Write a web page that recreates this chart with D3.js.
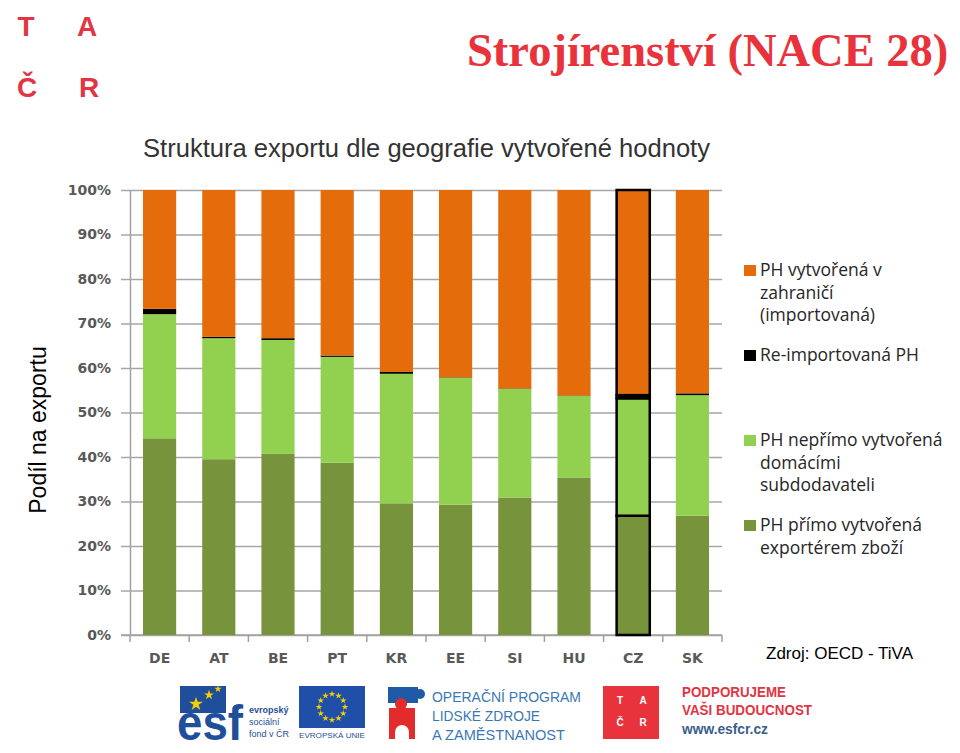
<!DOCTYPE html>
<html><head><meta charset="utf-8">
<script src="https://cdn.jsdelivr.net/npm/d3@7"></script>
<style>html,body{margin:0;padding:0;background:#fff;}svg{display:block;}</style>
</head><body>
<svg id="chart" width="960" height="753"></svg>
<script>
// ---- data ----
const countries = ["DE","AT","BE","PT","KR","EE","SI","HU","CZ","SK"];
const direct    = [44.2, 39.5, 40.7, 38.7, 29.6, 29.3, 30.9, 35.4, 26.8, 26.8];
const indirect  = [27.9, 27.2, 25.6, 23.8, 29.1, 28.5, 24.4, 18.3, 26.4, 27.1];
const reimport  = [1.2, 0.3, 0.4, 0.3, 0.4, 0.1, 0.1, 0.1, 0.7, 0.4];
const foreign   = [26.7, 33.0, 33.3, 37.2, 40.9, 42.1, 44.6, 46.2, 46.1, 45.7];
const yTicks    = [0,10,20,30,40,50,60,70,80,90,100];
const seriesKeys = ["direct","indirect","reimport","foreign"];
const seriesColors = {direct:"#77933c", indirect:"#92d050", reimport:"#000000", foreign:"#e46c0a"};
const legendItems = [
  {key:"foreign", lines:["PH vytvořená v","zahraničí","(importovaná)"]},
  {key:"reimport", lines:["Re-importovaná PH"]},
  {key:"indirect", lines:["PH nepřímo vytvořená","domácími","subdodavateli"]},
  {key:"direct", lines:["PH přímo vytvořená","exportérem zboží"]}
];
const highlight = "CZ";

const rows = countries.map((c,i)=>({country:c, direct:direct[i], indirect:indirect[i], reimport:reimport[i], foreign:foreign[i]}));

const svg = d3.select("#chart");
const red = "#e8333d";

// ---- TACR logo top-left ----
const tl = svg.append("g").attr("font-family","Liberation Sans, Arial, sans-serif").attr("font-weight","bold").attr("font-size",28).attr("fill","#e23543").attr("text-anchor","middle");
tl.append("text").attr("x",26).attr("y",36).text("T");
tl.append("text").attr("x",87).attr("y",36).text("A");
tl.append("text").attr("x",27).attr("y",97).text("Č");
tl.append("text").attr("x",89).attr("y",97).text("R");

// ---- titles ----
svg.append("text").attr("x",467).attr("y",66)
  .attr("font-family","Liberation Serif, DejaVu Serif, serif").attr("font-weight","bold")
  .attr("font-size",46.5).attr("fill",red)
  .text("Strojírenství (NACE 28)");
svg.append("text").attr("x",143).attr("y",157)
  .attr("font-family","Liberation Sans, Arial, sans-serif").attr("font-size",25).attr("fill","#333")
  .attr("textLength",567).attr("lengthAdjust","spacingAndGlyphs")
  .text("Struktura exportu dle geografie vytvořené hodnoty");
svg.append("text").attr("transform","translate(46,430) rotate(-90)").attr("text-anchor","middle")
  .attr("font-family","Liberation Sans, Arial, sans-serif").attr("font-size",23).attr("fill","#000")
  .text("Podíl na exportu");

// ---- chart ----
const x = d3.scaleBand().domain(countries).range([130,722]).paddingInner(0.44).paddingOuter(0.22);
const y = d3.scaleLinear().domain([0,100]).range([635,190]);

const tickFont = "DejaVu Sans, Verdana, sans-serif";
const yAxis = d3.axisLeft(y).tickValues(yTicks).tickFormat(d=>d+"%")
  .tickSizeInner(-(722-130)).tickSizeOuter(0).tickPadding(19);
const gy = svg.append("g").attr("transform","translate(130,0)").call(yAxis);
gy.select(".domain").attr("stroke","#a0a0a0").attr("stroke-width",1.5);
gy.selectAll(".tick line").attr("stroke","#a6a6a6").attr("stroke-width",1.5).attr("x1",-9);
gy.selectAll(".tick text").attr("font-family",tickFont).attr("font-weight","bold")
  .attr("font-size",14).attr("fill","#595959");

const xAxis = d3.axisBottom(x).tickSize(0).tickPadding(18);
const gx = svg.append("g").attr("transform","translate(0,635)").call(xAxis);
gx.select(".domain").attr("stroke","#a0a0a0").attr("stroke-width",1.5).attr("d","M121,0H722");
gx.selectAll(".tick text").attr("font-family",tickFont).attr("font-weight","bold")
  .attr("font-size",14).attr("fill","#595959");
// category separator ticks
const bounds = countries.map(c=>x(c) - x.step()*x.paddingInner()/2).concat([x(countries[countries.length-1]) + x.bandwidth() + x.step()*x.paddingInner()/2]);
gx.selectAll(".sep").data(bounds).join("line").attr("class","sep")
  .attr("x1",d=>d).attr("x2",d=>d).attr("y1",0).attr("y2",7)
  .attr("stroke","#a0a0a0").attr("stroke-width",1.5);

const stack = d3.stack().keys(seriesKeys);
const stacked = stack(rows);
const gBars = svg.append("g");
stacked.forEach(s=>{
  gBars.selectAll(null).data(s).join("rect")
    .attr("x",d=>x(d.data.country))
    .attr("width",x.bandwidth())
    .attr("y",d=>y(d[1]))
    .attr("height",d=>y(d[0])-y(d[1]))
    .attr("fill",seriesColors[s.key])
    .attr("stroke",d=>d.data.country===highlight?"#000":"none")
    .attr("stroke-width",2.5);
});

// ---- legend ----
const lg = svg.append("g").attr("font-family","Open Sans, DejaVu Sans, sans-serif").attr("font-size",17.5).attr("fill","#262626");
const legendY = [276, 361, 446, 531];
legendItems.forEach((it,i)=>{
  lg.append("rect").attr("x",744).attr("y",legendY[i]-11).attr("width",12).attr("height",11).attr("fill",seriesColors[it.key]);
  it.lines.forEach((ln,j)=>{
    lg.append("text").attr("x",760).attr("y",legendY[i]+j*22.5).text(ln);
  });
});

svg.append("text").attr("x",766).attr("y",659).attr("font-family","Liberation Sans, Arial, sans-serif")
  .attr("font-size",17).attr("fill","#000").text("Zdroj: OECD - TiVA");

// ---- bottom logos ----
const blue = "#1f4e9b";
const lb = svg.append("g");
// ESF
lb.append("rect").attr("x",180).attr("y",686).attr("width",46).attr("height",27).attr("fill",blue);
lb.append("text").attr("x",177).attr("y",740).attr("font-family","Liberation Sans, Arial, sans-serif").attr("font-weight","bold")
  .attr("font-size",50).attr("fill",blue).attr("textLength",66).attr("lengthAdjust","spacingAndGlyphs").text("esf");
const star = d3.symbol().type(d3.symbolStar);
[[196,704,60],[209,695,30],[218,689,16]].forEach(p=>{
  lb.append("path").attr("d",star.size(p[2])()).attr("transform",`translate(${p[0]},${p[1]})`).attr("fill","#f5d000");
});
const esfT = lb.append("g").attr("font-family","Liberation Sans, Arial, sans-serif").attr("font-size",9).attr("fill",blue);
esfT.append("text").attr("x",249).attr("y",713).attr("font-weight","bold").text("evropský");
esfT.append("text").attr("x",249).attr("y",725).text("sociální");
esfT.append("text").attr("x",249).attr("y",737).text("fond v ČR");
// EU flag
lb.append("rect").attr("x",299).attr("y",686).attr("width",66).attr("height",42).attr("fill","#1f4fa8");
d3.range(12).forEach(i=>{
  const a = i*Math.PI/6;
  lb.append("path").attr("d",star.size(14)()).attr("transform",`translate(${332+13*Math.cos(a)},${707+13*Math.sin(a)})`).attr("fill","#f5d000");
});
lb.append("text").attr("x",299).attr("y",738).attr("font-family","Liberation Sans, Arial, sans-serif").attr("font-size",8)
  .attr("fill",blue).attr("textLength",66).attr("lengthAdjust","spacingAndGlyphs").text("EVROPSKÁ UNIE");
// OP puzzle
lb.append("rect").attr("x",388).attr("y",687).attr("width",30).attr("height",16).attr("fill","#1f5aa6");
lb.append("circle").attr("cx",420).attr("cy",694).attr("r",5).attr("fill","#1f5aa6");
lb.append("circle").attr("cx",401).attr("cy",704).attr("r",6).attr("fill","#e32b2b");
lb.append("rect").attr("x",389).attr("y",708).attr("width",26).attr("height",31).attr("fill","#e32b2b");
lb.append("circle").attr("cx",402).attr("cy",732).attr("r",7).attr("fill","#fff");
lb.append("rect").attr("x",395).attr("y",732).attr("width",14).attr("height",8).attr("fill","#fff");
const opT = lb.append("g").attr("font-family","Liberation Sans, Arial, sans-serif").attr("font-size",15).attr("fill","#3a78b5");
opT.append("text").attr("x",432).attr("y",702).attr("textLength",149).attr("lengthAdjust","spacingAndGlyphs").text("OPERAČNÍ PROGRAM");
opT.append("text").attr("x",432).attr("y",721).attr("textLength",108).attr("lengthAdjust","spacingAndGlyphs").text("LIDSKÉ ZDROJE");
opT.append("text").attr("x",432).attr("y",740).attr("textLength",133).attr("lengthAdjust","spacingAndGlyphs").text("A ZAMĚSTNANOST");
// TACR square
lb.append("rect").attr("x",603).attr("y",686).attr("width",56).attr("height",53).attr("fill","#e8333d");
const tq = lb.append("g").attr("font-family","Liberation Sans, Arial, sans-serif").attr("font-weight","bold").attr("font-size",10).attr("fill","#fff").attr("text-anchor","middle");
tq.append("text").attr("x",620).attr("y",704).text("T");
tq.append("text").attr("x",643).attr("y",704).text("A");
tq.append("text").attr("x",620).attr("y",726).text("Č");
tq.append("text").attr("x",643).attr("y",726).text("R");
const pt = lb.append("g").attr("font-family","Liberation Sans, Arial, sans-serif").attr("font-weight","bold").attr("font-size",14);
pt.append("text").attr("x",682).attr("y",697).attr("fill","#e23543").attr("textLength",104).attr("lengthAdjust","spacingAndGlyphs").text("PODPORUJEME");
pt.append("text").attr("x",682).attr("y",715).attr("fill","#e23543").attr("textLength",130).attr("lengthAdjust","spacingAndGlyphs").text("VAŠI BUDOUCNOST");
pt.append("text").attr("x",682).attr("y",734).attr("fill","#3b5e8c").attr("textLength",86).attr("lengthAdjust","spacingAndGlyphs").text("www.esfcr.cz");
</script>
</body></html>
